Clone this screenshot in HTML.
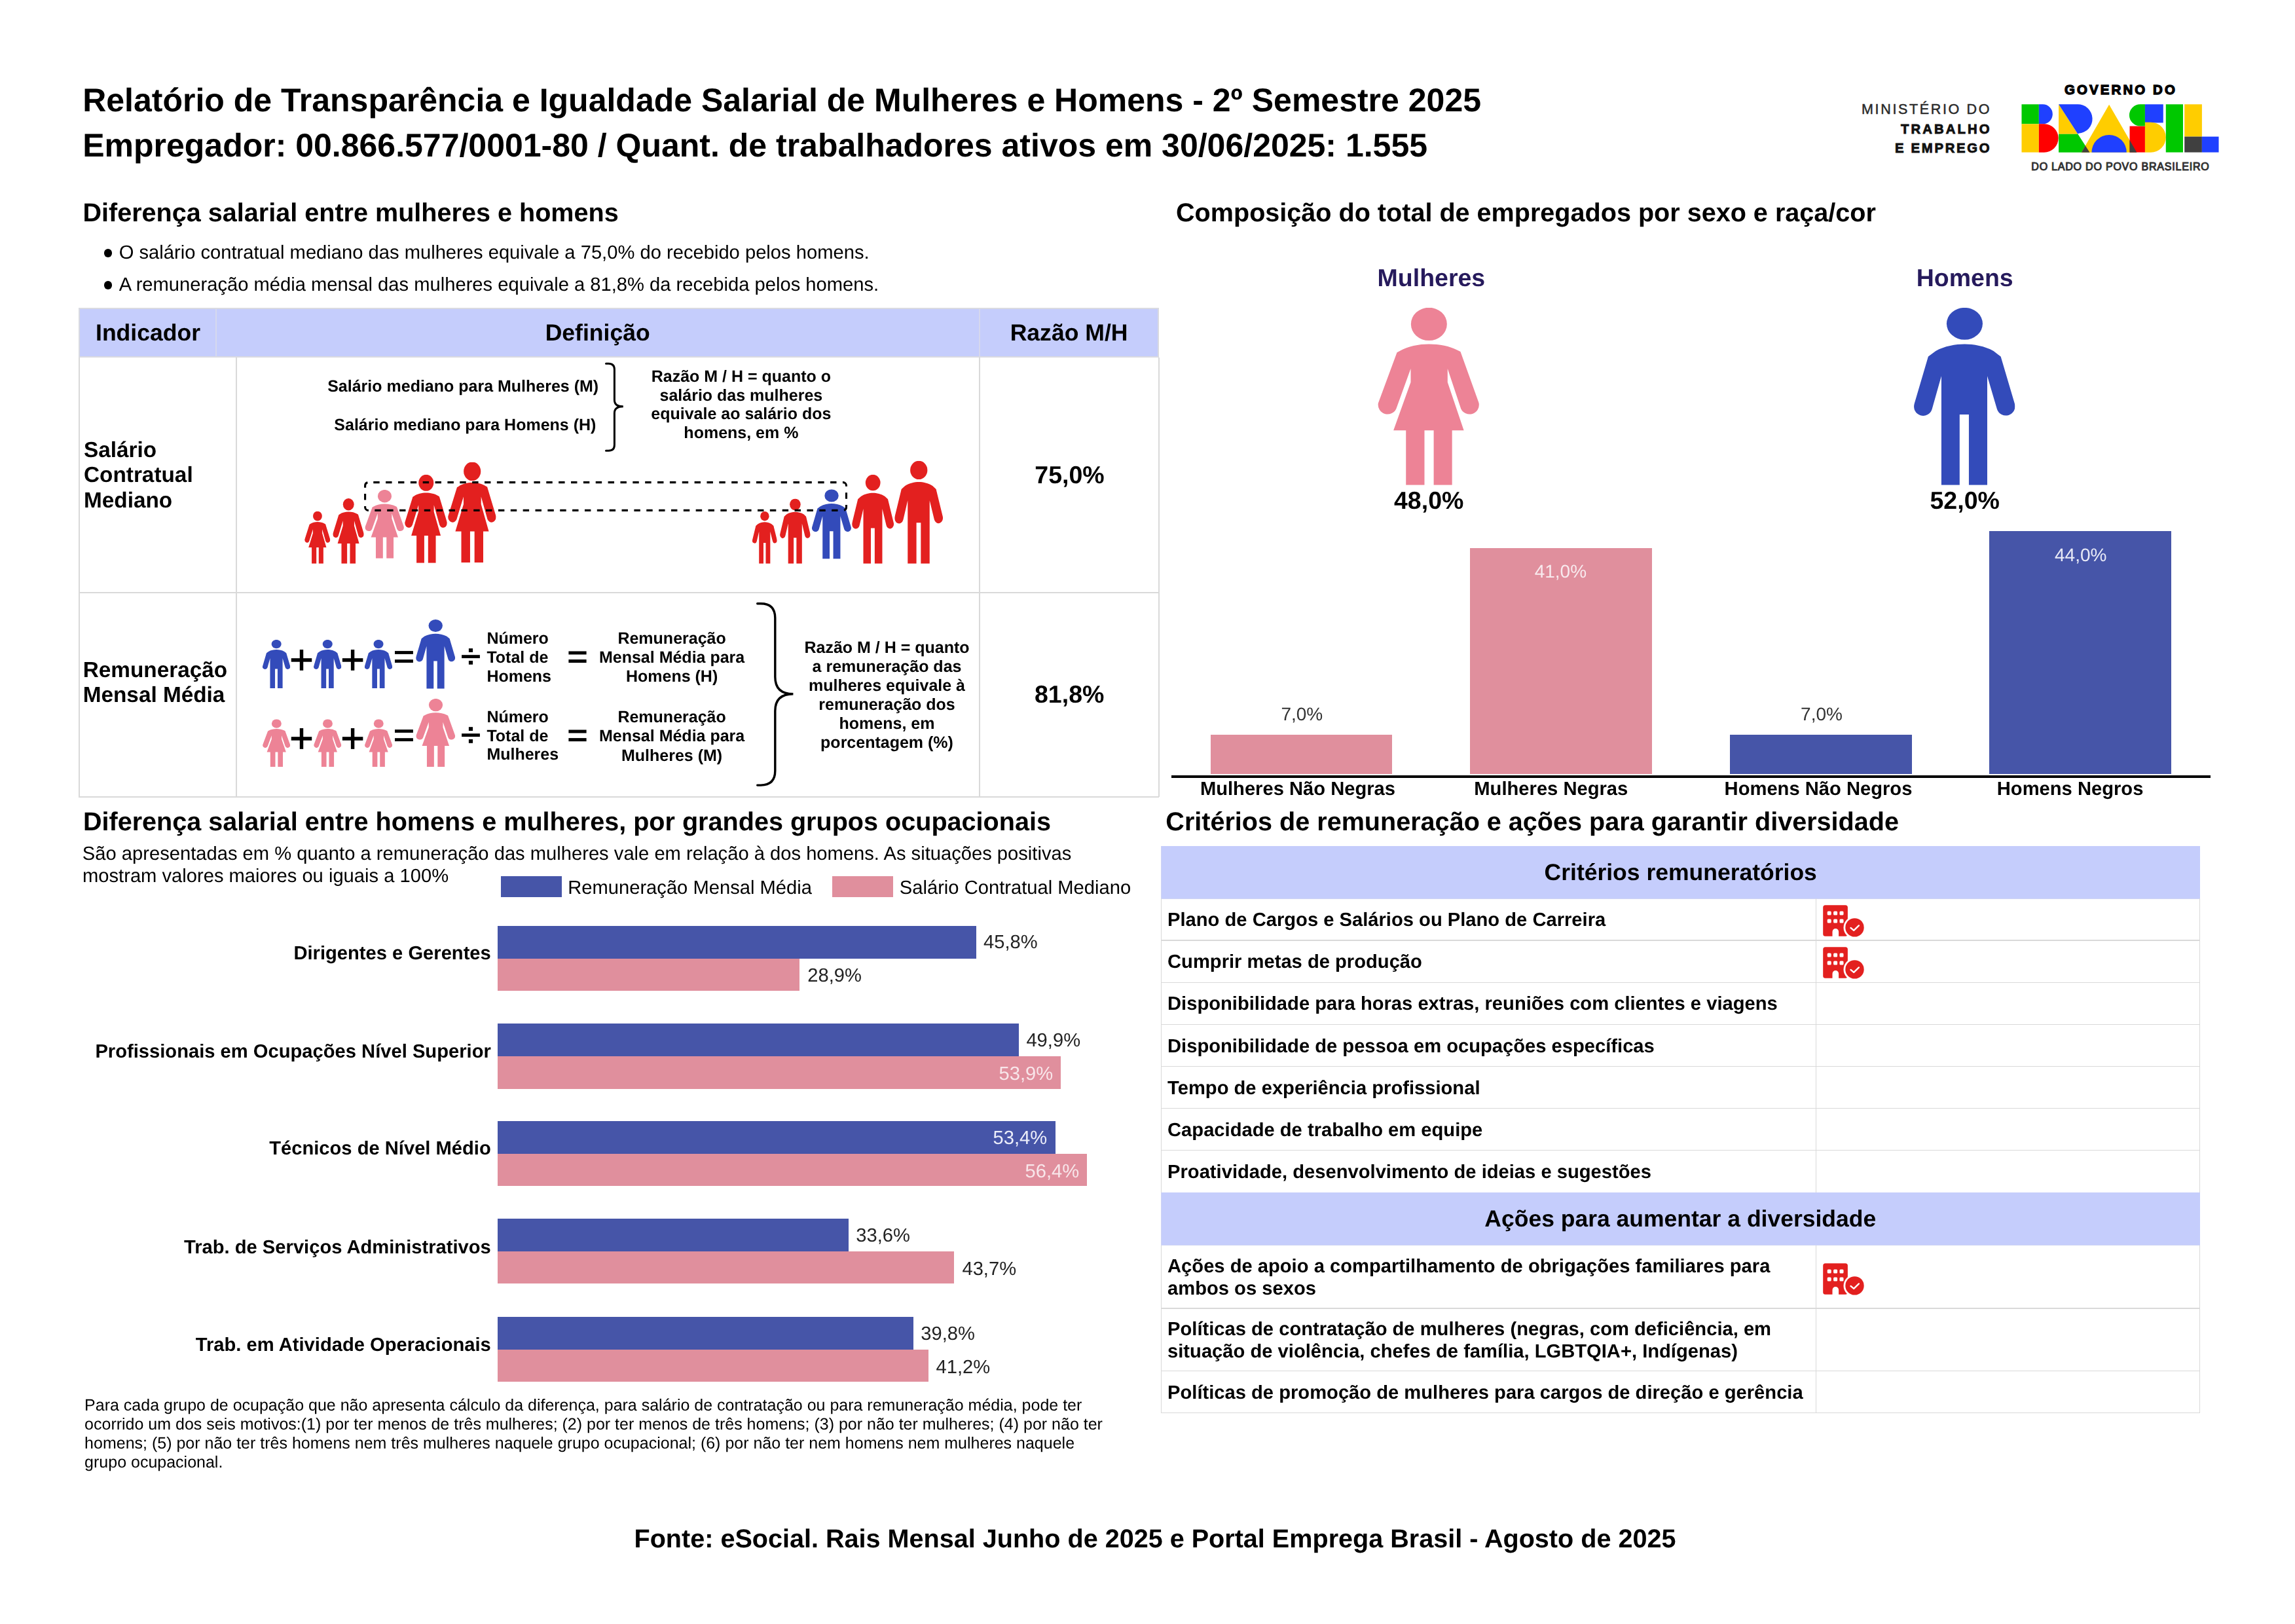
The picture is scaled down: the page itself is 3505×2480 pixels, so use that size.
<!DOCTYPE html>
<html><head><meta charset="utf-8"><title>Relatório de Transparência e Igualdade Salarial</title>
<style>
html,body{margin:0;padding:0;background:#fff;}
body{width:3505px;height:2480px;position:relative;overflow:hidden;font-family:"Liberation Sans",sans-serif;}
.t{position:absolute;white-space:nowrap;line-height:1;}
.r{position:absolute;}
svg{position:absolute;overflow:visible;}
.tx{font-family:"Liberation Sans",sans-serif;font-weight:bold;text-rendering:geometricPrecision;will-change:transform;}
</style></head><body>
<svg width="0" height="0" style="left:0;top:0"><defs>
<symbol id="w" viewBox="230 104 812 1419" preserveAspectRatio="none">
<ellipse cx="641" cy="235" rx="144" ry="132"/>
<path d="M641 395 C560 395 470 412 412 448 L385 462 L235 868 A76 76 0 0 0 379 912 L495 592 L495 700 L357 1085 L457 1085 L457 1523 L605 1523 L605 1085 L679 1085 L679 1523 L826 1523 L826 1085 L920 1085 L790 700 L790 592 L897 912 A76 76 0 0 0 1041 868 L893 455 L866 442 C810 412 722 395 641 395 Z"/>
</symbol>
<symbol id="m" viewBox="226 104 808 1419" preserveAspectRatio="none">
<ellipse cx="631" cy="232" rx="144" ry="128"/>
<path d="M631 395 C560 395 470 410 400 450 L340 495 L229 872 A73 73 0 0 0 370 917 L445 650 L445 1523 L591 1523 L591 958 L665 958 L665 1523 L812 1523 L812 650 L890 915 A73 73 0 0 0 1031 870 L920 495 L862 450 C792 410 702 395 631 395 Z"/>
</symbol>
<symbol id="bc" viewBox="0 0 100 70">
<rect x="14.2" y="12.2" width="37.7" height="47.5" rx="3.5" fill="#e3201f"/>
<g fill="#fff"><rect x="20.7" y="21.4" width="6" height="6" rx="1.5"/><rect x="30.1" y="21.4" width="6" height="6" rx="1.5"/><rect x="39.5" y="21.4" width="6" height="6" rx="1.5"/>
<rect x="20.7" y="33.4" width="6" height="6" rx="1.5"/><rect x="30.1" y="33.4" width="6" height="6" rx="1.5"/><rect x="39.5" y="33.4" width="6" height="6" rx="1.5"/>
<path d="M28.5 60 V52.9 A4.8 4.8 0 0 1 38.1 52.9 V60 Z"/>
<circle cx="62.5" cy="46.4" r="17"/></g>
<circle cx="62.5" cy="46.4" r="14.2" fill="#e3201f"/>
<path d="M56.5 46.9 L61.2 50.8 L68.9 43.4" fill="none" stroke="#fff" stroke-width="2.4" stroke-linecap="round" stroke-linejoin="round"/>
</symbol>
</defs></svg>

<svg style="left:3070px;top:120px" width="340" height="150" viewBox="0 0 2295 1012">
<rect x="118" y="265" width="178" height="203" fill="#00c800"/>
<path d="M296 265 H336 A101.5 101.5 0 0 1 336 468 H296 Z" fill="#1f40ff"/>
<rect x="118" y="468" width="178" height="292" fill="#ffcd00"/>
<path d="M296 468 H351 A146 146 0 0 1 351 760 H296 Z" fill="#ff0000"/>
<path d="M500 265 L500 572 L698 572 Z" fill="#ffcd00"/>
<path d="M500 265 H690 A150 150 0 0 1 705 565 L698 572 Z" fill="#1f40ff"/>
<path d="M500 572 H698 L820 760 H500 Z" fill="#00c800"/>
<path d="M1020 268 L735 760 H1305 Z" fill="#ffcd00"/>
<path d="M775 691 L820 760 H735 Z" fill="#404040"/>
<path d="M840 760 A180 180 0 0 1 1200 760 Z" fill="#1f40ff"/>
<rect x="1232" y="490" width="158" height="270" fill="#ff0000"/>
<path d="M1232 634 L1305 760 H1232 Z" fill="#404040"/>
<path d="M1390 265 H1340 A112 112 0 0 0 1340 489 H1390 Z" fill="#00c800"/>
<rect x="1390" y="265" width="188" height="190" fill="#1f40ff"/>
<path d="M1390 450 H1450 A155 155 0 0 1 1450 760 H1390 Z" fill="#ffcd00"/>
<rect x="1605" y="265" width="177" height="495" fill="#00c800"/>
<rect x="1797" y="265" width="180" height="333" fill="#ffcd00"/>
<rect x="1797" y="598" width="180" height="162" fill="#404040"/>
<rect x="1977" y="598" width="173" height="162" fill="#1f40ff"/>
<text x="560" y="160" font-family="Liberation Sans" font-weight="bold" font-size="138" textLength="1140" lengthAdjust="spacing" fill="#000" stroke="#000" stroke-width="9">GOVERNO DO</text>
<text x="218" y="945" font-family="Liberation Sans" font-size="108" textLength="1832" lengthAdjust="spacing" fill="#333" stroke="#333" stroke-width="7">DO LADO DO POVO BRASILEIRO</text>
</svg>
<svg style="left:2800px;top:100px" width="300" height="190" viewBox="0 0 300 190">
<text x="43" y="74" font-family="Liberation Sans" font-size="21.5" textLength="195.5" lengthAdjust="spacing" fill="#2a2a2a" stroke="#2a2a2a" stroke-width="0.5">MINISTÉRIO DO</text>
<text x="103" y="103.7" font-family="Liberation Sans" font-weight="bold" font-size="20.3" textLength="135.5" lengthAdjust="spacing" fill="#111" stroke="#111" stroke-width="0.9">TRABALHO</text>
<text x="94" y="133.3" font-family="Liberation Sans" font-weight="bold" font-size="20.3" textLength="144.5" lengthAdjust="spacing" fill="#111" stroke="#111" stroke-width="0.9">E EMPREGO</text>
</svg>
<div class="r" style="left:158.60px;top:380.45px;width:12.50px;height:12.50px;background:#000;border-radius:50%;"></div>
<div class="r" style="left:158.60px;top:429.45px;width:12.50px;height:12.50px;background:#000;border-radius:50%;"></div>
<div class="r" style="left:120.20px;top:470.20px;width:1649.80px;height:75.70px;background:#d9dae1;"></div>
<div class="r" style="left:121.90px;top:472.20px;width:1646.40px;height:71.70px;background:#c5cdfc;"></div>
<div class="r" style="left:328.50px;top:472.20px;width:2.60px;height:71.70px;background:#d5d8ee;"></div>
<div class="r" style="left:1494.80px;top:472.20px;width:2.40px;height:71.70px;background:#d5d8ee;"></div>
<div class="r" style="left:120.15px;top:545.50px;width:1.50px;height:671.20px;background:#d9d9d9;"></div>
<div class="r" style="left:360.15px;top:545.50px;width:1.50px;height:671.20px;background:#d9d9d9;"></div>
<div class="r" style="left:1495.35px;top:545.50px;width:1.50px;height:671.20px;background:#d9d9d9;"></div>
<div class="r" style="left:1769.05px;top:545.50px;width:1.50px;height:671.20px;background:#d9d9d9;"></div>
<div class="r" style="left:120.40px;top:904.30px;width:1649.40px;height:1.50px;background:#d9d9d9;"></div>
<div class="r" style="left:120.40px;top:1216.00px;width:1649.40px;height:1.50px;background:#d9d9d9;"></div>
<svg style="left:0;top:0" width="3505" height="2480" viewBox="0 0 3505 2480">
<path d="M925.5 555.3 H929.4 Q938.4 555.3 938.4 564.3 V610.8 Q938.4 620.8 951.8 620.8 Q938.4 620.8 938.4 630.8 V679.2 Q938.4 688.2 929.4 688.2 H925.5" fill="none" stroke="#000" stroke-width="3" stroke-linecap="round"/>
<path d="M1156.7 921.8 H1161.8 Q1183.8 921.8 1183.8 943.8 V1033.8 Q1183.8 1059.8 1211.4 1059.8 Q1183.8 1059.8 1183.8 1085.8 V1177.1 Q1183.8 1199.1 1161.8 1199.1 H1156.7" fill="none" stroke="#000" stroke-width="3.4" stroke-linecap="round"/>
<use href="#w" x="465.1" y="780.7" width="39.2" height="80" fill="#e3201f"/>
<use href="#w" x="508.2" y="761.1" width="47.5" height="99.6" fill="#e3201f"/>
<use href="#w" x="557.3" y="748" width="59.6" height="104.8" fill="#ed8396"/>
<use href="#w" x="618" y="724.8" width="64.8" height="134.9" fill="#e3201f"/>
<use href="#w" x="683.9" y="705.7" width="73.7" height="153.2" fill="#e3201f"/>
<use href="#m" x="1149" y="781" width="37.7" height="79.7" fill="#e3201f"/>
<use href="#m" x="1191.1" y="761.4" width="46.5" height="99.3" fill="#e3201f"/>
<use href="#m" x="1240" y="747.3" width="59.9" height="106.3" fill="#334bba"/>
<use href="#m" x="1301.2" y="724.8" width="63.8" height="135.9" fill="#e3201f"/>
<use href="#m" x="1366.3" y="703.8" width="73.7" height="156.9" fill="#e3201f"/>
<rect x="557.6" y="736.6" width="734.9" height="42.8" rx="5" fill="none" stroke="#000" stroke-width="3.1" stroke-dasharray="9.43 9.43" stroke-dashoffset="11.2"/>
<use href="#m" x="401" y="976.9" width="42.2" height="74" fill="#334bba"/>
<use href="#m" x="479.1" y="976.9" width="42.2" height="74" fill="#334bba"/>
<use href="#m" x="556.9" y="976.9" width="42.2" height="74" fill="#334bba"/>
<use href="#m" x="635.2" y="946" width="59.9" height="105.7" fill="#334bba"/>
<rect x="444.75" y="1005.2" width="31.5" height="5.5" fill="#000"/><rect x="457.8" y="992.0500000000001" width="5.4" height="31.8" fill="#000"/>
<rect x="522.85" y="1005.2" width="31.5" height="5.5" fill="#000"/><rect x="535.9" y="992.0500000000001" width="5.4" height="31.8" fill="#000"/>
<rect x="603" y="994.1" width="27.9" height="4.8" fill="#000"/><rect x="603" y="1007.2" width="27.9" height="4.8" fill="#000"/>
<rect x="868.4" y="994.5" width="27.2" height="5" fill="#000"/><rect x="868.4" y="1007.1" width="27.2" height="5" fill="#000"/>
<rect x="705.1" y="1000.2" width="27.8" height="4.9" fill="#000"/><rect x="715.9" y="990.2" width="6.2" height="5.8" fill="#000"/><rect x="715.9" y="1009" width="6.2" height="5.8" fill="#000"/>
<use href="#w" x="401" y="1098.2" width="42.2" height="72.7" fill="#ed8396"/>
<use href="#w" x="479.1" y="1098.2" width="42.2" height="72.7" fill="#ed8396"/>
<use href="#w" x="556.9" y="1098.2" width="42.2" height="72.7" fill="#ed8396"/>
<use href="#w" x="635.2" y="1067" width="59.9" height="104" fill="#ed8396"/>
<rect x="444.75" y="1125.2" width="31.5" height="5.5" fill="#000"/><rect x="457.8" y="1112.05" width="5.4" height="31.8" fill="#000"/>
<rect x="522.85" y="1125.2" width="31.5" height="5.5" fill="#000"/><rect x="535.9" y="1112.05" width="5.4" height="31.8" fill="#000"/>
<rect x="603" y="1114.1" width="27.9" height="4.8" fill="#000"/><rect x="603" y="1127.2" width="27.9" height="4.8" fill="#000"/>
<rect x="868.4" y="1114.5" width="27.2" height="5" fill="#000"/><rect x="868.4" y="1127.1" width="27.2" height="5" fill="#000"/>
<rect x="705.1" y="1120.2" width="27.8" height="4.9" fill="#000"/><rect x="715.9" y="1110.2" width="6.2" height="5.8" fill="#000"/><rect x="715.9" y="1129" width="6.2" height="5.8" fill="#000"/>
</svg>
<svg style="left:0;top:0" width="3505" height="2480" viewBox="0 0 3505 2480">
<use href="#w" x="2103.9" y="469.9" width="155" height="270.9" fill="#ed8396"/>
<use href="#m" x="2923.1" y="469.9" width="154.3" height="270.9" fill="#334bba"/>
</svg>
<div class="r" style="left:1849.00px;top:1122.40px;width:276.90px;height:59.40px;background:#e08f9d;"></div>
<div class="r" style="left:2245.10px;top:836.90px;width:277.60px;height:344.90px;background:#e08f9d;"></div>
<div class="r" style="left:2642.00px;top:1122.40px;width:278.00px;height:59.40px;background:#4655a8;"></div>
<div class="r" style="left:3038.00px;top:810.60px;width:278.10px;height:371.20px;background:#4655a8;"></div>
<div class="r" style="left:1789.00px;top:1184.20px;width:1586.70px;height:3.55px;background:#000;"></div>
<div class="r" style="left:765.10px;top:1338.20px;width:92.50px;height:31.40px;background:#4655a8;"></div>
<div class="r" style="left:1271.00px;top:1338.20px;width:92.90px;height:31.40px;background:#e08f9d;"></div>
<div class="r" style="left:760.00px;top:1413.50px;width:730.97px;height:50.00px;background:#4655a8;"></div>
<div class="r" style="left:760.00px;top:1463.50px;width:461.24px;height:49.70px;background:#e08f9d;"></div>
<div class="r" style="left:760.00px;top:1563.30px;width:796.40px;height:50.00px;background:#4655a8;"></div>
<div class="r" style="left:760.00px;top:1613.30px;width:860.24px;height:49.70px;background:#e08f9d;"></div>
<div class="r" style="left:760.00px;top:1711.80px;width:852.26px;height:50.00px;background:#4655a8;"></div>
<div class="r" style="left:760.00px;top:1761.80px;width:900.14px;height:49.70px;background:#e08f9d;"></div>
<div class="r" style="left:760.00px;top:1860.80px;width:536.26px;height:50.00px;background:#4655a8;"></div>
<div class="r" style="left:760.00px;top:1910.80px;width:697.45px;height:49.70px;background:#e08f9d;"></div>
<div class="r" style="left:760.00px;top:2010.60px;width:635.21px;height:50.00px;background:#4655a8;"></div>
<div class="r" style="left:760.00px;top:2060.60px;width:657.55px;height:49.70px;background:#e08f9d;"></div>
<div class="r" style="left:1773.10px;top:1291.90px;width:1587.10px;height:81.00px;background:#cfd4f3;"></div>
<div class="r" style="left:1773.70px;top:1292.40px;width:1585.90px;height:80.10px;background:#c5cdfc;"></div>
<div class="r" style="left:1773.10px;top:1820.90px;width:1587.10px;height:81.00px;background:#cfd4f3;"></div>
<div class="r" style="left:1773.70px;top:1821.40px;width:1585.90px;height:80.10px;background:#c5cdfc;"></div>
<div class="r" style="left:1773.70px;top:1435.35px;width:1585.90px;height:1.50px;background:#d9d9d9;"></div>
<div class="r" style="left:1773.70px;top:1499.65px;width:1585.90px;height:1.50px;background:#d9d9d9;"></div>
<div class="r" style="left:1773.70px;top:1563.75px;width:1585.90px;height:1.50px;background:#d9d9d9;"></div>
<div class="r" style="left:1773.70px;top:1627.85px;width:1585.90px;height:1.50px;background:#d9d9d9;"></div>
<div class="r" style="left:1773.70px;top:1691.85px;width:1585.90px;height:1.50px;background:#d9d9d9;"></div>
<div class="r" style="left:1773.70px;top:1755.75px;width:1585.90px;height:1.50px;background:#d9d9d9;"></div>
<div class="r" style="left:1773.70px;top:1997.45px;width:1585.90px;height:1.50px;background:#d9d9d9;"></div>
<div class="r" style="left:1773.70px;top:2092.75px;width:1585.90px;height:1.50px;background:#d9d9d9;"></div>
<div class="r" style="left:1773.70px;top:2156.65px;width:1585.90px;height:1.50px;background:#d9d9d9;"></div>
<div class="r" style="left:1772.95px;top:1372.40px;width:1.50px;height:448.60px;background:#d9d9d9;"></div>
<div class="r" style="left:1772.95px;top:1901.60px;width:1.50px;height:256.55px;background:#d9d9d9;"></div>
<div class="r" style="left:2772.85px;top:1372.40px;width:1.50px;height:448.60px;background:#d9d9d9;"></div>
<div class="r" style="left:2772.85px;top:1901.60px;width:1.50px;height:256.55px;background:#d9d9d9;"></div>
<div class="r" style="left:3358.85px;top:1372.40px;width:1.50px;height:448.60px;background:#d9d9d9;"></div>
<div class="r" style="left:3358.85px;top:1901.60px;width:1.50px;height:256.55px;background:#d9d9d9;"></div>
<svg style="left:2770px;top:1370px" width="100" height="70"><use href="#bc"/></svg>
<svg style="left:2770px;top:1434.3px" width="100" height="70"><use href="#bc"/></svg>
<svg style="left:2770px;top:1917.2px" width="100" height="70"><use href="#bc"/></svg>
<svg class="tx" style="left:0;top:0" width="3505" height="2480" viewBox="0 0 3505 2480"><text x="126.20" y="170.40" font-size="50">Relatório de Transparência e Igualdade Salarial de Mulheres e Homens - 2º Semestre 2025</text>
<text x="126.20" y="239.20" font-size="50">Empregador: 00.866.577/0001-80 / Quant. de trabalhadores ativos em 30/06/2025: 1.555</text>
<text x="126.40" y="337.90" font-size="39.58">Diferença salarial entre mulheres e homens</text>
<text x="181.70" y="394.70" font-size="29.17" font-weight="normal">O salário contratual mediano das mulheres equivale a 75,0% do recebido pelos homens.</text>
<text x="181.70" y="443.70" font-size="29.17" font-weight="normal">A remuneração média mensal das mulheres equivale a 81,8% da recebida pelos homens.</text>
<text x="146.00" y="520.00" font-size="35.6">Indicador</text>
<text x="912.70" y="520.00" font-size="35.6" text-anchor="middle">Definição</text>
<text x="1632.60" y="520.00" font-size="35.6" text-anchor="middle">Razão M/H</text>
<text x="128.00" y="697.60" font-size="33.33">Salário</text>
<text x="128.00" y="736.25" font-size="33.33">Contratual</text>
<text x="128.00" y="774.90" font-size="33.33">Mediano</text>
<text x="500.20" y="598.40" font-size="25">Salário mediano para Mulheres (M)</text>
<text x="510.30" y="656.50" font-size="25">Salário mediano para Homens (H)</text>
<text x="1131.90" y="582.80" font-size="25" text-anchor="middle">Razão M / H = quanto o</text>
<text x="1131.90" y="611.60" font-size="25" text-anchor="middle">salário das mulheres</text>
<text x="1131.90" y="640.40" font-size="25" text-anchor="middle">equivale ao salário dos</text>
<text x="1131.90" y="669.20" font-size="25" text-anchor="middle">homens, em %</text>
<text x="1633.50" y="738.00" font-size="37.5" text-anchor="middle">75,0%</text>
<text x="1633.20" y="1073.40" font-size="37.5" text-anchor="middle">81,8%</text>
<text x="126.70" y="1033.70" font-size="33.33">Remuneração</text>
<text x="126.70" y="1071.60" font-size="33.33">Mensal Média</text>
<text x="743.40" y="983.00" font-size="25">Número</text>
<text x="743.40" y="1011.85" font-size="25">Total de</text>
<text x="743.40" y="1040.70" font-size="25">Homens</text>
<text x="743.40" y="1102.70" font-size="25">Número</text>
<text x="743.40" y="1131.55" font-size="25">Total de</text>
<text x="743.40" y="1160.40" font-size="25">Mulheres</text>
<text x="1026.10" y="982.80" font-size="25" text-anchor="middle">Remuneração</text>
<text x="1026.10" y="1012.10" font-size="25" text-anchor="middle">Mensal Média para</text>
<text x="1026.10" y="1041.40" font-size="25" text-anchor="middle">Homens (H)</text>
<text x="1026.10" y="1103.10" font-size="25" text-anchor="middle">Remuneração</text>
<text x="1026.10" y="1132.40" font-size="25" text-anchor="middle">Mensal Média para</text>
<text x="1026.10" y="1161.70" font-size="25" text-anchor="middle">Mulheres (M)</text>
<text x="1354.50" y="997.40" font-size="25" text-anchor="middle">Razão M / H = quanto</text>
<text x="1354.50" y="1026.25" font-size="25" text-anchor="middle">a remuneração das</text>
<text x="1354.50" y="1055.10" font-size="25" text-anchor="middle">mulheres equivale à</text>
<text x="1354.50" y="1083.95" font-size="25" text-anchor="middle">remuneração dos</text>
<text x="1354.50" y="1112.80" font-size="25" text-anchor="middle">homens, em</text>
<text x="1354.50" y="1141.65" font-size="25" text-anchor="middle">porcentagem (%)</text>
<text x="1796.00" y="337.90" font-size="39.58">Composição do total de empregados por sexo e raça/cor</text>
<text x="2185.90" y="437.40" font-size="37.5" text-anchor="middle" fill="#261a5c">Mulheres</text>
<text x="3000.70" y="437.40" font-size="37.5" text-anchor="middle" fill="#261a5c">Homens</text>
<text x="2182.20" y="776.70" font-size="37.5" text-anchor="middle">48,0%</text>
<text x="3000.70" y="776.70" font-size="37.5" text-anchor="middle">52,0%</text>
<text x="1981.95" y="1213.70" font-size="29.17" text-anchor="middle">Mulheres Não Negras</text>
<text x="2368.80" y="1213.70" font-size="29.17" text-anchor="middle">Mulheres Negras</text>
<text x="2777.00" y="1213.70" font-size="29.17" text-anchor="middle">Homens Não Negros</text>
<text x="3161.60" y="1213.70" font-size="29.17" text-anchor="middle">Homens Negros</text>
<text x="1988.30" y="1100.00" font-size="28" font-weight="normal" text-anchor="middle" fill="#333">7,0%</text>
<text x="2383.40" y="882.40" font-size="28" font-weight="normal" text-anchor="middle" fill="#f8eaee">41,0%</text>
<text x="2782.00" y="1100.00" font-size="28" font-weight="normal" text-anchor="middle" fill="#333">7,0%</text>
<text x="3177.70" y="856.90" font-size="28" font-weight="normal" text-anchor="middle" fill="#e9ebf7">44,0%</text>
<text x="126.90" y="1268.40" font-size="39.58">Diferença salarial entre homens e mulheres, por grandes grupos ocupacionais</text>
<text x="125.80" y="1312.80" font-size="29.17" font-weight="normal">São apresentadas em % quanto a remuneração das mulheres vale em relação à dos homens. As situações positivas</text>
<text x="126.00" y="1346.90" font-size="29.17" font-weight="normal">mostram valores maiores ou iguais a 100%</text>
<text x="867.20" y="1364.90" font-size="29.17" font-weight="normal">Remuneração Mensal Média</text>
<text x="1373.80" y="1364.90" font-size="29.17" font-weight="normal">Salário Contratual Mediano</text>
<text x="749.80" y="1464.90" font-size="29.17" text-anchor="end">Dirigentes e Gerentes</text>
<text x="1501.97" y="1448.40" font-size="29.17" font-weight="normal" fill="#222">45,8%</text>
<text x="1233.24" y="1499.40" font-size="29.17" font-weight="normal" fill="#222">28,9%</text>
<text x="749.80" y="1614.70" font-size="29.17" text-anchor="end">Profissionais em Ocupações Nível Superior</text>
<text x="1567.40" y="1598.20" font-size="29.17" font-weight="normal" fill="#222">49,9%</text>
<text x="1608.24" y="1649.20" font-size="29.17" font-weight="normal" text-anchor="end" fill="#f8e6ea">53,9%</text>
<text x="749.80" y="1763.40" font-size="29.17" text-anchor="end">Técnicos de Nível Médio</text>
<text x="1599.26" y="1746.70" font-size="29.17" font-weight="normal" text-anchor="end" fill="#eceefa">53,4%</text>
<text x="1648.14" y="1797.70" font-size="29.17" font-weight="normal" text-anchor="end" fill="#f8e6ea">56,4%</text>
<text x="749.80" y="1913.70" font-size="29.17" text-anchor="end">Trab. de Serviços Administrativos</text>
<text x="1307.26" y="1895.70" font-size="29.17" font-weight="normal" fill="#222">33,6%</text>
<text x="1469.45" y="1946.70" font-size="29.17" font-weight="normal" fill="#222">43,7%</text>
<text x="749.80" y="2063.40" font-size="29.17" text-anchor="end">Trab. em Atividade Operacionais</text>
<text x="1406.21" y="2045.50" font-size="29.17" font-weight="normal" fill="#222">39,8%</text>
<text x="1429.55" y="2096.50" font-size="29.17" font-weight="normal" fill="#222">41,2%</text>
<text x="129.10" y="2153.80" font-size="25" font-weight="normal">Para cada grupo de ocupação que não apresenta cálculo da diferença, para salário de contratação ou para remuneração média, pode ter</text>
<text x="129.10" y="2182.77" font-size="25" font-weight="normal">ocorrido um dos seis motivos:(1) por ter menos de três mulheres; (2) por ter menos de três homens; (3) por não ter mulheres; (4) por não ter</text>
<text x="129.10" y="2211.74" font-size="25" font-weight="normal">homens; (5) por não ter três homens nem três mulheres naquele grupo ocupacional; (6) por não ter nem homens nem mulheres naquele</text>
<text x="129.10" y="2240.71" font-size="25" font-weight="normal">grupo ocupacional.</text>
<text x="968.50" y="2363.30" font-size="39.58">Fonte: eSocial. Rais Mensal Junho de 2025 e Portal Emprega Brasil - Agosto de 2025</text>
<text x="1780.30" y="1268.40" font-size="39.58">Critérios de remuneração e ações para garantir diversidade</text>
<text x="2566.70" y="1344.10" font-size="35.5" text-anchor="middle">Critérios remuneratórios</text>
<text x="2566.30" y="1873.40" font-size="35.5" text-anchor="middle">Ações para aumentar a diversidade</text>
<text x="1783.05" y="1413.70" font-size="29.17">Plano de Cargos e Salários ou Plano de Carreira</text>
<text x="1783.05" y="1477.98" font-size="29.17">Cumprir metas de produção</text>
<text x="1783.05" y="1542.26" font-size="29.17">Disponibilidade para horas extras, reuniões com clientes e viagens</text>
<text x="1783.05" y="1606.54" font-size="29.17">Disponibilidade de pessoa em ocupações específicas</text>
<text x="1783.05" y="1670.82" font-size="29.17">Tempo de experiência profissional</text>
<text x="1783.05" y="1735.10" font-size="29.17">Capacidade de trabalho em equipe</text>
<text x="1783.05" y="1799.38" font-size="29.17">Proatividade, desenvolvimento de ideias e sugestões</text>
<text x="1783.05" y="1943.30" font-size="29.17">Ações de apoio a compartilhamento de obrigações familiares para</text>
<text x="1783.05" y="1977.10" font-size="29.17">ambos os sexos</text>
<text x="1783.05" y="2039.40" font-size="29.17">Políticas de contratação de mulheres (negras, com deficiência, em</text>
<text x="1783.05" y="2073.10" font-size="29.17">situação de violência, chefes de família, LGBTQIA+, Indígenas)</text>
<text x="1783.05" y="2135.90" font-size="29.17">Políticas de promoção de mulheres para cargos de direção e gerência</text></svg>
</body></html>
